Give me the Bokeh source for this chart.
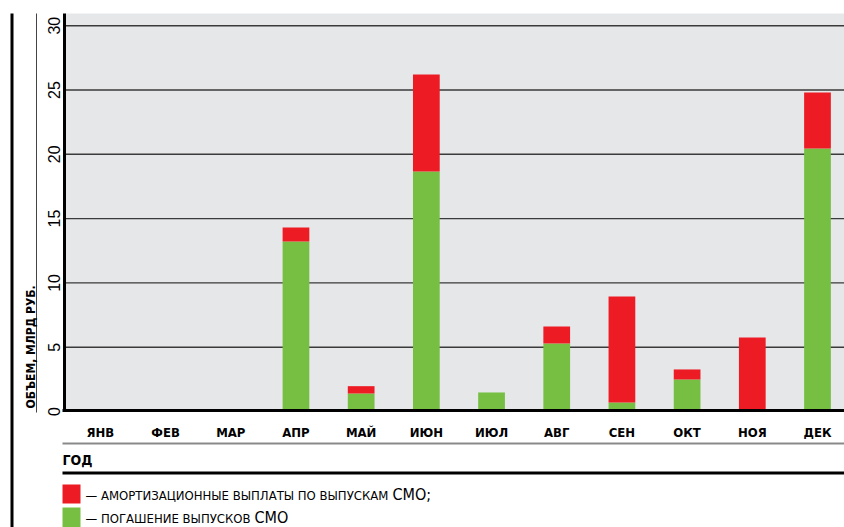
import math
from bokeh.plotting import figure
from bokeh.models import ColumnDataSource, FixedTicker, Label, Range1d
from bokeh.embed import file_html
from bokeh.resources import INLINE

# ---------------- data ----------------
months = ["ЯНВ", "ФЕВ", "МАР", "АПР", "МАЙ", "ИЮН", "ИЮЛ", "АВГ", "СЕН", "ОКТ", "НОЯ", "ДЕК"]
redemption = [0, 0, 0, 13.22, 1.40, 18.66, 1.48, 5.29, 0.70, 2.49, 0, 20.45]      # green
amortization = [0, 0, 0, 1.09, 0.57, 7.55, 0, 1.32, 8.24, 0.78, 5.75, 4.36]       # red
y_ticks = [0, 5, 10, 15, 20, 25, 30]
y_title = "ОБЪЕМ, МЛРД РУБ."
x_title = "ГОД"
legend_red = ["— АМОРТИЗАЦИОННЫЕ ВЫПЛАТЫ ПО ВЫПУСКАМ", "СМО;"]
legend_green = ["— ПОГАШЕНИЕ ВЫПУСКОВ", "СМО"]

RED = "#ED1C24"
GREEN = "#76BF43"
NARROW = "'Liberation Sans Narrow', 'DejaVu Sans Condensed', 'Liberation Sans', sans-serif"

W, H = 844, 527
# layout of the page in pixels -> data coordinates
X0PX, XS = 99.9, 65.19      # centre of the first month, pixels per month
Y0PX, YS = 411.0, 12.86     # pixel row of value 0, pixels per unit


def xd(px):
    return (px - X0PX) / XS


def yd(py):
    return (Y0PX - py) / YS


p = figure(width=W, height=H, title=None,
           x_range=Range1d(xd(0), xd(W)), y_range=Range1d(yd(H), yd(0)),
           output_backend="svg", toolbar_location=None,
           min_border_left=0, min_border_right=0, min_border_top=0, min_border_bottom=0)
p.background_fill_color = "white"
p.border_fill_color = "white"
p.outline_line_color = None
p.xgrid.visible = False
p.ygrid.visible = False

# plot area background
p.quad(left=[xd(65)], right=[xd(W)], bottom=[0], top=[yd(13)],
       fill_color="#E6E7E9", line_color=None)

# horizontal grid lines
grid_vals = y_ticks[1:]
p.segment(x0=[xd(65)] * len(grid_vals), x1=[xd(W)] * len(grid_vals),
          y0=grid_vals, y1=grid_vals, line_color="#3a3a3a", line_width=1.4)

# stacked bars
src = ColumnDataSource(dict(x=list(range(len(months))), green=redemption, red=amortization))
p.vbar_stack(["green", "red"], x="x", width=0.41, source=src,
             fill_color=[GREEN, RED], line_color=None)

# y axis (fixed inside the canvas)
ya = p.yaxis[0]
ya.fixed_location = xd(63.5)
ya.bounds = (yd(411), yd(13))
ya.ticker = FixedTicker(ticks=y_ticks)
ya.major_label_orientation = "vertical"
ya.major_label_text_font = "Liberation Sans"
ya.major_label_text_font_size = "16px"
ya.major_label_text_color = "black"
ya.major_label_standoff = 4
ya.major_tick_out = 0
ya.major_tick_in = 0
ya.minor_tick_out = 0
ya.minor_tick_in = 0
ya.axis_line_width = 3
ya.axis_line_color = "black"

# x axis
xa = p.xaxis[0]
xa.fixed_location = yd(409.8)
xa.bounds = (xd(62), xd(W))
xa.ticker = FixedTicker(ticks=list(range(len(months))))
xa.major_label_overrides = {i: m for i, m in enumerate(months)}
xa.major_label_text_font = NARROW
xa.major_label_text_font_style = "bold"
xa.major_label_text_font_size = "13px"
xa.major_label_text_color = "black"
xa.major_label_standoff = 15
xa.major_tick_out = 0
xa.major_tick_in = 0
xa.minor_tick_out = 0
xa.minor_tick_in = 0
xa.axis_line_width = 3
xa.axis_line_color = "black"


def rule(l, r, t, b, color):
    p.quad(left=[xd(l)], right=[xd(r)], top=[yd(t)], bottom=[yd(b)],
           fill_color=color, line_color=None)


def label(x, y, text, size, bold=False, angle=0.0, align="left"):
    p.add_layout(Label(x=xd(x), y=yd(y), text=text,
                       angle=angle, text_align=align, text_baseline="middle",
                       text_font=NARROW, text_font_size=size,
                       text_font_style="bold" if bold else "normal",
                       text_color="black"))


# decorative rules
rule(10, 13, 13, 527, "black")          # thick left rule
rule(35.5, 36.5, 13, 412, "#444444")    # thin rule next to the y title
rule(62, W, 442, 444, "#8a8a8a")        # thin rule under month labels
rule(62, W, 471, 474, "black")          # thick rule under "ГОД"

# titles
label(30, 408, y_title, "12px", bold=True, angle=math.pi / 2)
label(62, 459, x_title, "14px", bold=True)

# legend
rule(62, 80, 484, 503, RED)
rule(62, 80, 507, 527, GREEN)
label(85, 495, legend_red[0], "13px")
label(392, 494, legend_red[1], "16px")
label(85, 518, legend_green[0], "13px")
label(254, 517, legend_green[1], "16px")

open("out.html", "w").write(file_html(p, INLINE))
